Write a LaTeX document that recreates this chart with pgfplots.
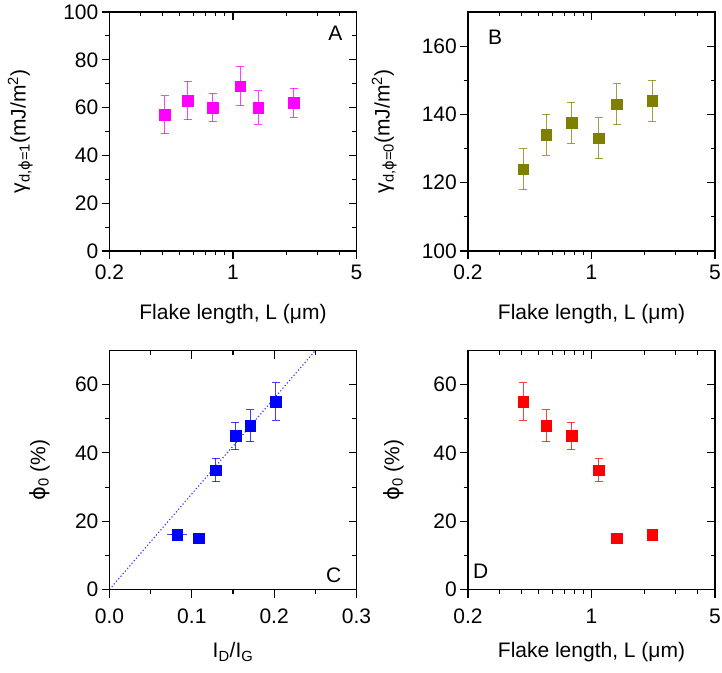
\documentclass[border=0pt]{standalone}
\usepackage{fontspec}
\setmainfont{Liberation Sans}
\newfontfamily\dv{DejaVu Sans}
\usepackage{pgfplots}
\pgfplotsset{compat=1.18}

\definecolor{cA}{RGB}{255,0,255}
\definecolor{cB}{RGB}{128,128,0}
\definecolor{cC}{RGB}{0,0,255}
\definecolor{cD}{RGB}{255,0,0}

\pgfplotsset{
  panel/.style={
    scale only axis, width=247pt, height=239pt, anchor=south west,
    font=\fontsize{21}{25}\selectfont,
    /pgf/number format/assume math mode=true,
    axis line style={line width=1.3pt},
    major tick length=8pt, minor tick length=4.5pt,
    every tick/.style={black, line width=1.1pt},
    clip=false, disabledatascaling,
  },
  frontax/.style={panel, tick align=outside, xtick pos=left, ytick pos=left,
    xticklabel style={inner sep=0pt},
    yticklabel style={inner sep=0pt, xshift=-3pt},
    xlabel style={at={(axis description cs:0.5,0)}, anchor=north, inner sep=0pt, yshift=-53pt},
    ylabel style={at={(axis description cs:0,0.5)}, anchor=south, inner sep=0pt}},
  backax/.style={panel, tick align=inside, xtick pos=right, ytick pos=right,
    xticklabels={}, yticklabels={}},
  pts/.style={only marks, mark=square*, mark size=5.3pt,
    error bars/y dir=both, error bars/y explicit,
    error bars/error bar style={line width=1pt, draw opacity=0.75},
    error bars/error mark options={rotate=90, mark size=4pt, line width=1pt}},
}

\begin{document}
\begin{tikzpicture}
\useasboundingbox (0pt,0pt) rectangle (722pt,672pt);

% A
\begin{axis}[frontax, at={(109.5pt,421pt)},
  xmode=log, xmin=0.2, xmax=5, xtick={0.2,1,5}, xticklabels={0.2,1,5},
  minor xtick={0.3,0.4,0.5,0.6,0.7,0.8,0.9,2,3,4},
  ymin=0, ymax=100, ytick={0,20,40,60,80,100}, minor y tick num=1,
  xticklabel style={yshift=-6pt},
  xlabel={Flake length, L (μm)},
  ylabel={γ\textsubscript{d,{\dv ϕ}=1}(mJ/m\textsuperscript{2})},
  ylabel style={yshift=76.5pt}]
\addplot[pts, cA] coordinates {
  (0.41,57) +- (0,8)
  (0.555,63) +- (0,8)
  (0.77,60) +- (0,6)
  (1.10,69) +- (0,8)
  (1.39,60) +- (0,7)
  (2.2,62) +- (0,6)
};
\node[anchor=north east, inner sep=0pt, xshift=-14pt, yshift=-14pt] at (rel axis cs:1,1) {A};
\end{axis}
\begin{axis}[backax, at={(109.5pt,421pt)},
  xmode=log, xmin=0.2, xmax=5, xtick={0.2,1,5},
  minor xtick={0.3,0.4,0.5,0.6,0.7,0.8,0.9,2,3,4},
  ymin=0, ymax=100, ytick={0,20,40,60,80,100}, minor y tick num=1]
\end{axis}

% B
\begin{axis}[frontax, at={(468pt,421pt)},
  xmode=log, xmin=0.2, xmax=5, xtick={0.2,1,5}, xticklabels={0.2,1,5},
  minor xtick={0.3,0.4,0.5,0.6,0.7,0.8,0.9,2,3,4},
  ymin=100, ymax=170, ytick={100,120,140,160}, minor y tick num=1,
  xticklabel style={yshift=-6pt},
  xlabel={Flake length, L (μm)},
  ylabel={γ\textsubscript{d,{\dv ϕ}=0}(mJ/m\textsuperscript{2})},
  ylabel style={yshift=71pt}]
\addplot[pts, cB] coordinates {
  (0.41,124) +- (0,6)
  (0.555,134) +- (0,6)
  (0.77,137.5) +- (0,6)
  (1.10,133) +- (0,6)
  (1.39,143) +- (0,6)
  (2.2,144) +- (0,6)
};
\node[anchor=north west, inner sep=0pt, xshift=20pt, yshift=-18pt] at (rel axis cs:0,1) {B};
\end{axis}
\begin{axis}[backax, at={(468pt,421pt)},
  xmode=log, xmin=0.2, xmax=5, xtick={0.2,1,5},
  minor xtick={0.3,0.4,0.5,0.6,0.7,0.8,0.9,2,3,4},
  ymin=100, ymax=170, ytick={100,120,140,160}, minor y tick num=1]
\end{axis}

% C
\begin{axis}[frontax, at={(109.5pt,82.5pt)},
  xmin=0, xmax=0.3, xtick={0,0.1,0.2,0.3}, xticklabels={0.0,0.1,0.2,0.3},
  minor x tick num=1,
  ymin=0, ymax=70, ytick={0,20,40,60}, minor y tick num=1,
  xticklabel style={yshift=-11pt},
  xlabel={I\textsubscript{D}/I\textsubscript{G}},
  ylabel={{\dv ϕ}\textsubscript{0} (\%)},
  ylabel style={yshift=59.5pt}]
\addplot[cC!75!white, line width=1.2pt, dash pattern=on 1.2pt off 2.2pt] coordinates {(0,0) (0.25,70)};
\addplot[pts, cC] coordinates {
  (0.108,15) +- (0,0)
  (0.129,35) +- (0,3.5)
  (0.153,45) +- (0,4)
  (0.171,48) +- (0,4.7)
  (0.202,55) +- (0,5.5)
};
\addplot[only marks, mark=square*, mark size=5.3pt, cC,
  error bars/x dir=both, error bars/x explicit,
  error bars/error bar style={line width=1pt, draw opacity=0.75},
  error bars/error mark options={mark size=4pt, line width=1pt}] coordinates {
  (0.082,16) +- (0.007,0)
};
\node[anchor=south east, inner sep=0pt, xshift=-15pt, yshift=7pt] at (rel axis cs:1,0) {C};
\end{axis}
\begin{axis}[backax, at={(109.5pt,82.5pt)},
  xmin=0, xmax=0.3, xtick={0,0.1,0.2,0.3}, minor x tick num=1,
  ymin=0, ymax=70, ytick={0,20,40,60}, minor y tick num=1]
\end{axis}

% D
\begin{axis}[frontax, at={(468pt,82.5pt)},
  xmode=log, xmin=0.2, xmax=5, xtick={0.2,1,5}, xticklabels={0.2,1,5},
  minor xtick={0.3,0.4,0.5,0.6,0.7,0.8,0.9,2,3,4},
  ymin=0, ymax=70, ytick={0,20,40,60}, minor y tick num=1,
  xticklabel style={yshift=-11pt},
  xlabel={Flake length, L (μm)},
  ylabel={{\dv ϕ}\textsubscript{0} (\%)},
  ylabel style={yshift=64pt}]
\addplot[pts, cD] coordinates {
  (0.41,55) +- (0,5.5)
  (0.555,48) +- (0,4.7)
  (0.77,45) +- (0,4)
  (1.10,35) +- (0,3.5)
  (1.39,15) +- (0,0)
  (2.2,16) +- (0,0)
};
\node[anchor=south west, inner sep=0pt, xshift=5pt, yshift=11pt] at (rel axis cs:0,0) {D};
\end{axis}
\begin{axis}[backax, at={(468pt,82.5pt)},
  xmode=log, xmin=0.2, xmax=5, xtick={0.2,1,5},
  minor xtick={0.3,0.4,0.5,0.6,0.7,0.8,0.9,2,3,4},
  ymin=0, ymax=70, ytick={0,20,40,60}, minor y tick num=1]
\end{axis}

\end{tikzpicture}
\end{document}
